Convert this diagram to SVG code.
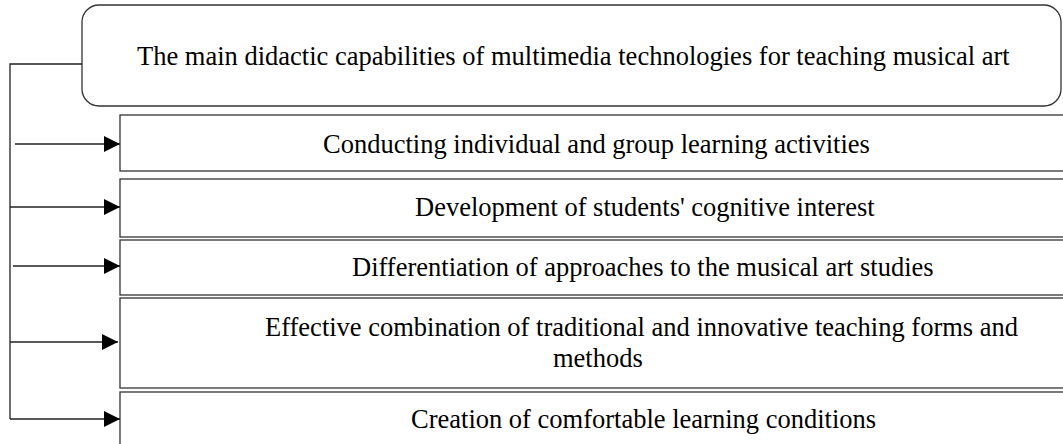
<svg xmlns="http://www.w3.org/2000/svg" width="1063" height="444" viewBox="0 0 1063 444">
<style>
  .box { fill: #ffffff; stroke: #333333; stroke-width: 1.3; }
  .lbl { font-family: "Liberation Serif", "Times New Roman", serif; font-size: 26.5px; fill: #000000; }
  .conn { fill: none; stroke: #222222; stroke-width: 1.3; }
</style>
<defs>
  <marker id="ah" markerUnits="userSpaceOnUse" markerWidth="17" markerHeight="17" refX="16" refY="8" orient="auto">
    <path d="M0,0 L16,8 L0,16 Z" fill="#000000"/>
  </marker>
</defs>
<rect width="1063" height="444" fill="#ffffff"/>
<g id="main">
  <rect class="box" x="82" y="5" width="979" height="101" rx="17" ry="17"/>
  <text class="lbl" x="137" y="65">The main didactic capabilities of multimedia technologies for teaching musical art</text>
</g>
<g id="item1">
  <rect class="box" x="120" y="115" width="960" height="56"/>
  <text class="lbl" x="323" y="153">Conducting individual and group learning activities</text>
</g>
<g id="item2">
  <rect class="box" x="120" y="179" width="960" height="58"/>
  <text class="lbl" x="415" y="216">Development of students' cognitive interest</text>
</g>
<g id="item3">
  <rect class="box" x="120" y="240" width="960" height="55"/>
  <text class="lbl" x="352" y="276">Differentiation of approaches to the musical art studies</text>
</g>
<g id="item4">
  <rect class="box" x="120" y="298" width="960" height="90"/>
  <text class="lbl" x="265" y="336">Effective combination of traditional and innovative teaching forms and</text>
  <text class="lbl" x="553" y="367">methods</text>
</g>
<g id="item5">
  <rect class="box" x="120" y="392" width="960" height="60"/>
  <text class="lbl" x="411" y="428">Creation of comfortable learning conditions</text>
</g>
<g id="connectors">
  <path class="conn" d="M82,64 H10 V419"/>
  <line class="conn" x1="15" y1="144" x2="120" y2="144" marker-end="url(#ah)"/>
  <line class="conn" x1="10" y1="207" x2="120" y2="207" marker-end="url(#ah)"/>
  <line class="conn" x1="13" y1="266" x2="120" y2="266" marker-end="url(#ah)"/>
  <line class="conn" x1="10" y1="342" x2="118" y2="342" marker-end="url(#ah)"/>
  <line class="conn" x1="10" y1="419" x2="120" y2="419" marker-end="url(#ah)"/>
</g>
</svg>
